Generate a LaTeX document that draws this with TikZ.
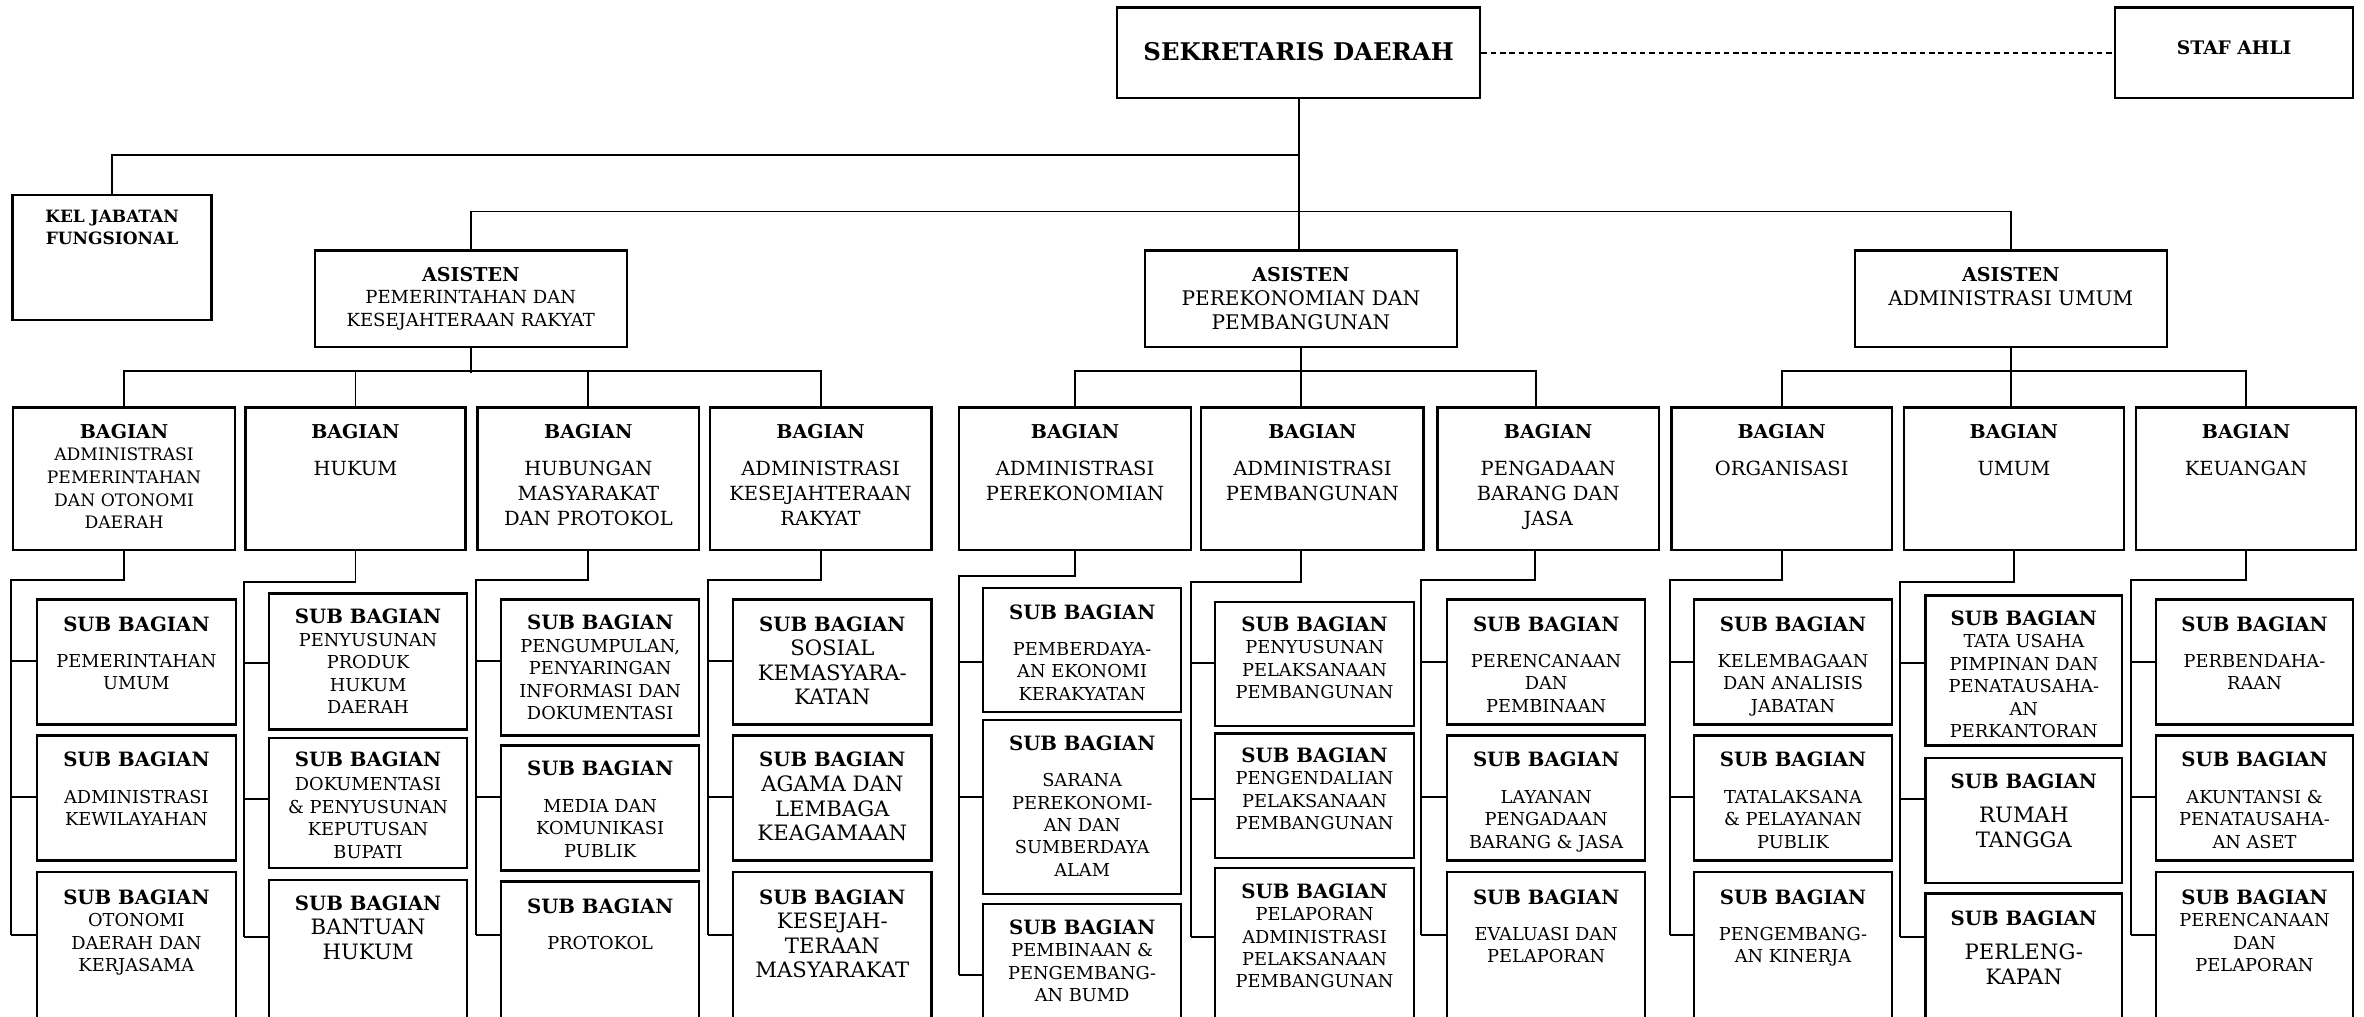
\documentclass[tikz,border=0pt]{standalone}
\usepackage{fontspec}
\setmainfont{DejaVu Serif}

\newlength\px
\setlength\px{0.25mm}
% box of fixed size, text from the top
\newcommand{\inbox}[4]{\parbox[c][#2\px][t]{#1\px}{\centering\vspace*{#3\px}#4\par}}
\newcommand{\subhd}{{\bfseries\fontsize{9.3}{10.6}\selectfont SUB BAGIAN}}
\newcommand{\baghd}{{\bfseries\fontsize{9}{11}\selectfont BAGIAN}}
\newcommand{\ashd}{{\bfseries\fontsize{9}{11}\selectfont ASISTEN}}

\tikzset{
    orgbox/.style={draw, line width=1.1pt, inner sep=0pt, anchor=north west,
        font=\fontsize{8.4}{10.6}\selectfont},
    bigtxt/.style={font=\fontsize{10}{11.6}\selectfont},
    bagtxt/.style={font=\fontsize{9.2}{11.7}\selectfont},
    link/.style={line width=0.9pt},
}

\begin{document}
\begin{tikzpicture}[x=0.25mm, y=-0.25mm]
    % \draw[help lines] (0,0) grid[step=100] (1568,674);
    \useasboundingbox (0,0) rectangle (1568,674);
    \clip (0,0) rectangle (1568,674);

    % top level
    \node[orgbox, font=\bfseries\fontsize{11.5}{13}\selectfont] (sek) at (740.2,4.3)
        {\inbox{240.8}{60.1}{22.8}{SEKRETARIS DAERAH}};
    \node[orgbox, font=\bfseries\fontsize{8.8}{10}\selectfont] (staf) at (1402.2,4.3)
        {\inbox{157.8}{60.1}{21.9}{STAF AHLI}};
    \node[orgbox, font=\bfseries\fontsize{8}{10}\selectfont] (kel) at (7.6,128.4)
        {\inbox{131.9}{82.9}{10.5}{KEL JABATAN\\FUNGSIONAL}};

    % asisten
    \node[orgbox, font=\fontsize{8.5}{10.7}\selectfont] (as1) at (208,165.3)
        {\inbox{207}{64}{11.1}{\ashd\\PEMERINTAHAN DAN\\KESEJAHTERAAN RAKYAT}};
    \node[orgbox, font=\fontsize{9.5}{11.4}\selectfont] (as2) at (758.8,165.3)
        {\inbox{206.6}{64}{11.1}{\ashd\\PEREKONOMIAN DAN\\PEMBANGUNAN}};
    \node[orgbox, font=\fontsize{9.5}{11.4}\selectfont] (as3) at (1229.5,165.3)
        {\inbox{206.9}{64}{11.1}{\ashd\\ADMINISTRASI UMUM}};

    % bagian
    \node[orgbox, font=\fontsize{8.1}{10.7}\selectfont] (bpem) at (8,269.5)
        {\inbox{147}{94.5}{10.9}{\baghd\\ADMINISTRASI\\PEMERINTAHAN\\DAN OTONOMI\\DAERAH}};
    \node[orgbox, bagtxt] (bhuk) at (162,269.5) {\inbox{146}{94.5}{10.9}{\baghd\\[6pt]HUKUM}};
    \node[orgbox, bagtxt] (bhum) at (316,269.5)
        {\inbox{147}{94.5}{10.9}{\baghd\\[6pt]HUBUNGAN\\MASYARAKAT\\DAN PROTOKOL}};
    \node[orgbox, bagtxt] (bkes) at (470,269.5)
        {\inbox{147}{94.5}{10.9}{\baghd\\[6pt]ADMINISTRASI\\KESEJAHTERAAN\\RAKYAT}};
    \node[orgbox, bagtxt] (beko) at (635.3,269.5)
        {\inbox{154}{94.5}{10.9}{\baghd\\[6pt]ADMINISTRASI\\PEREKONOMIAN}};
    \node[orgbox, bagtxt] (bbang) at (796,269.5)
        {\inbox{147.5}{94.5}{10.9}{\baghd\\[6pt]ADMINISTRASI\\PEMBANGUNAN}};
    \node[orgbox, bagtxt] (bpbj) at (952.6,269.5)
        {\inbox{147}{94.5}{10.9}{\baghd\\[6pt]PENGADAAN\\BARANG DAN\\JASA}};
    \node[orgbox, bagtxt] (borg) at (1108,269.5) {\inbox{146}{94.5}{10.9}{\baghd\\[6pt]ORGANISASI}};
    \node[orgbox, bagtxt] (bumum) at (1262,269.5) {\inbox{146}{94.5}{10.9}{\baghd\\[6pt]UMUM}};
    \node[orgbox, bagtxt] (bkeu) at (1416,269.5) {\inbox{146}{94.5}{10.9}{\baghd\\[6pt]KEUANGAN}};

    % sub bagian
    \node[orgbox] (pem1) at (23.7,396.8) {\inbox{132}{82.9}{11.4}{\subhd\\[6.5pt]PEMERINTAHAN\\UMUM}};
    \node[orgbox] (pem2) at (23.7,487) {\inbox{132}{83}{11.2}{\subhd\\[6.5pt]ADMINISTRASI\\KEWILAYAHAN}};
    \node[orgbox] (pem3) at (23.7,577.7) {\inbox{132}{122.3}{11.5}{\subhd\\OTONOMI\\DAERAH DAN\\KERJASAMA}};

    \node[orgbox] (huk1) at (177.7,392.9) {\inbox{131.3}{90.1}{10.3}{\subhd\\PENYUSUNAN\\PRODUK\\HUKUM\\DAERAH}};
    \node[orgbox] (huk2) at (177.7,488.6) {\inbox{131.3}{86.2}{9.6}{\subhd\\[0.7pt]DOKUMENTASI\\\& PENYUSUNAN\\KEPUTUSAN\\BUPATI}};
    \node[orgbox, bigtxt] (huk3) at (177.7,583) {\inbox{131.3}{117}{10.2}{\subhd\\BANTUAN\\HUKUM}};

    \node[orgbox] (hum1) at (331.6,396.9) {\inbox{131.4}{90.1}{10.3}{\subhd\\PENGUMPULAN,\\PENYARINGAN\\INFORMASI DAN\\DOKUMENTASI}};
    \node[orgbox] (hum2) at (331.6,493.7) {\inbox{131.4}{82.9}{10.5}{\subhd\\[6.5pt]MEDIA DAN\\KOMUNIKASI\\PUBLIK}};
    \node[orgbox] (hum3) at (331.6,584) {\inbox{131.4}{116}{11.2}{\subhd\\[6.5pt]PROTOKOL}};

    \node[orgbox, bigtxt] (kes1) at (485.6,396.8) {\inbox{131.4}{82.9}{11.4}{\subhd\\SOSIAL\\KEMASYARA-\\KATAN}};
    \node[orgbox, bigtxt] (kes2) at (485.6,487) {\inbox{131.4}{83}{11.2}{\subhd\\AGAMA DAN\\LEMBAGA\\KEAGAMAAN}};
    \node[orgbox, bigtxt] (kes3) at (485.6,577.7) {\inbox{131.4}{122.3}{11.5}{\subhd\\KESEJAH-\\TERAAN\\MASYARAKAT}};

    \node[orgbox] (eko1) at (651.3,389.1) {\inbox{131.4}{82.5}{11.1}{\subhd\\[6.5pt]PEMBERDAYA-\\AN EKONOMI\\KERAKYATAN}};
    \node[orgbox] (eko2) at (651.3,476.9) {\inbox{131.4}{115.1}{10.3}{\subhd\\[6.5pt]SARANA\\PEREKONOMI-\\AN DAN\\SUMBERDAYA\\ALAM}};
    \node[orgbox] (eko3) at (651.3,598.7) {\inbox{131.4}{101.3}{10.5}{\subhd\\PEMBINAAN \&\\PENGEMBANG-\\AN BUMD}};

    \node[orgbox] (bang1) at (805.3,398.4) {\inbox{131.7}{82.5}{9.8}{\subhd\\PENYUSUNAN\\PELAKSANAAN\\PEMBANGUNAN}};
    \node[orgbox] (bang2) at (805.3,485.7) {\inbox{131.7}{82.7}{9.5}{\subhd\\PENGENDALIAN\\PELAKSANAAN\\PEMBANGUNAN}};
    \node[orgbox] (bang3) at (805.3,574.8) {\inbox{131.7}{125.2}{10.4}{\subhd\\PELAPORAN\\ADMINISTRASI\\PELAKSANAAN\\PEMBANGUNAN}};

    \node[orgbox] (pbj1) at (959,396.8) {\inbox{131.5}{82.9}{11.4}{\subhd\\[6.5pt]PERENCANAAN\\DAN\\PEMBINAAN}};
    \node[orgbox] (pbj2) at (959,487) {\inbox{131.5}{83}{11.2}{\subhd\\[6.5pt]LAYANAN\\PENGADAAN\\BARANG \& JASA}};
    \node[orgbox] (pbj3) at (959,577.7) {\inbox{131.5}{122.3}{11.5}{\subhd\\[6.5pt]EVALUASI DAN\\PELAPORAN}};

    \node[orgbox] (org1) at (1123,396.8) {\inbox{131}{82.9}{11.4}{\subhd\\[6.5pt]KELEMBAGAAN\\DAN ANALISIS\\JABATAN}};
    \node[orgbox] (org2) at (1123,487) {\inbox{131}{83}{11.2}{\subhd\\[6.5pt]TATALAKSANA\\\& PELAYANAN\\PUBLIK}};
    \node[orgbox] (org3) at (1123,577.7) {\inbox{131}{122.3}{11.5}{\subhd\\[6.5pt]PENGEMBANG-\\AN KINERJA}};

    \node[orgbox] (umum1) at (1276.3,394.2) {\inbox{130.6}{99.5}{10}{\subhd\\TATA USAHA\\PIMPINAN DAN\\PENATAUSAHA-\\AN\\PERKANTORAN}};
    \node[orgbox, bigtxt] (umum2) at (1276.3,501.9) {\inbox{130.6}{82.9}{10.3}{\subhd\\[4.8pt]RUMAH\\TANGGA}};
    \node[orgbox, bigtxt] (umum3) at (1276.3,591.8) {\inbox{130.6}{108.2}{11.4}{\subhd\\[4.8pt]PERLENG-\\KAPAN}};

    \node[orgbox] (keu1) at (1429.3,396.8) {\inbox{130.6}{82.9}{11.4}{\subhd\\[6.5pt]PERBENDAHA-\\RAAN}};
    \node[orgbox] (keu2) at (1429.3,487) {\inbox{130.6}{83}{11.2}{\subhd\\[6.5pt]AKUNTANSI \&\\PENATAUSAHA-\\AN ASET}};
    \node[orgbox] (keu3) at (1429.3,577.7) {\inbox{130.6}{122.3}{11.5}{\subhd\\PERENCANAAN\\DAN\\PELAPORAN}};

    % top lines
    \draw[line width=0.7pt, dash pattern=on 2.6pt off 1.8pt] (sek.east) -- (staf.west);
    \draw[link] (sek.south) -- (sek.south |- as2.north);
    \draw[link] (kel.north) |- (sek.south |- 0,103);
    \draw[link] (as1.north) -- ++(0,-25) -| (as3.north);

    % asisten to bagian
    \draw[link] (bpem.north) -- ++(0,-23.5) -| (bkes.north);
    \draw[link] (as1.south) -- ++(0,16.7);
    \draw[link] (bhuk.north) -- ++(0,-23.5);
    \draw[link] (bhum.north) -- ++(0,-23.5);
    \draw[link] (beko.north) -- ++(0,-23.5) -| ([xshift=-2mm]bpbj.north);
    \draw[link] (as2.south) -- (as2.south |- bbang.north);
    \draw[link] (borg.north) -- ++(0,-23.5) -| (bkeu.north);
    \draw[link] (as3.south) -- (as3.south |- bumum.north);

    % bagian to sub bagian
    \coordinate (v1) at (7.4,384.7);
    \coordinate (v2) at (162,386);
    \coordinate (v3) at (315.7,384.7);
    \coordinate (v4) at (469.7,384.7);
    \coordinate (v5) at (635.8,381.8);
    \coordinate (v6) at (789.8,386.2);
    \coordinate (v7) at (942.7,384.7);
    \coordinate (v8) at (1107.4,384.7);
    \coordinate (v9) at (1260.4,386.2);
    \coordinate (v10) at (1413.4,384.7);

    \draw[link] (bpem.south) |- (v1) -- (v1 |- 0,620.2);
    \draw[link] (bhuk.south) |- (v2) -- (v2 |- 0,621.7);
    \draw[link] (bhum.south) |- (v3) -- (v3 |- 0,620.2);
    \draw[link] (bkes.south) |- (v4) -- (v4 |- 0,620.2);
    \draw[link] (beko.south) |- (v5) -- (v5 |- 0,646.7);
    \draw[link] (bbang.south -| as2.south) |- (v6) -- (v6 |- 0,621.3);
    \draw[link] ([xshift=-2.25mm]bpbj.south) |- (v7) -- (v7 |- 0,620.2);
    \draw[link] (borg.south) |- (v8) -- (v8 |- 0,620.2);
    \draw[link] (bumum.south) |- (v9) -- (v9 |- 0,621.7);
    \draw[link] (bkeu.south) |- (v10) -- (v10 |- 0,620.2);

    \foreach \y in {438.4,528.6,620.2} {
        \draw[link] (v1 |- 0,\y) -- (pem1.west |- 0,\y);
        \draw[link] (v3 |- 0,\y) -- (hum1.west |- 0,\y);
        \draw[link] (v4 |- 0,\y) -- (kes1.west |- 0,\y);
    }
    \foreach \y in {440,530,621.7} {
        \draw[link] (v2 |- 0,\y) -- (huk1.west |- 0,\y);
        \draw[link] (v9 |- 0,\y) -- (umum1.west |- 0,\y);
    }
    \foreach \y in {438.9,528.8,620.2} {
        \draw[link] (v7 |- 0,\y) -- (pbj1.west |- 0,\y);
        \draw[link] (v8 |- 0,\y) -- (org1.west |- 0,\y);
        \draw[link] (v10 |- 0,\y) -- (keu1.west |- 0,\y);
    }
    \foreach \y in {438.9,528.8,646.7} \draw[link] (v5 |- 0,\y) -- (eko1.west |- 0,\y);
    \foreach \y in {440,530,621.3} \draw[link] (v6 |- 0,\y) -- (bang1.west |- 0,\y);
\end{tikzpicture}
\end{document}
